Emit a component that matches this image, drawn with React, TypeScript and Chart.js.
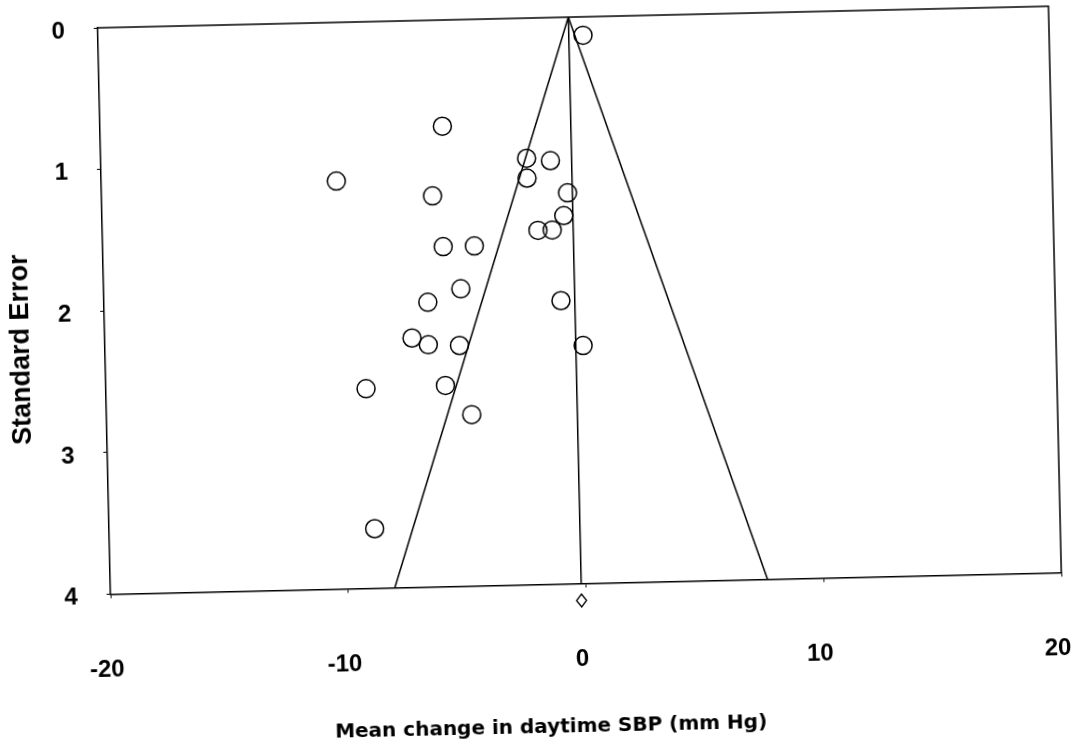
import React, { useEffect, useRef } from "react";
import { Chart, registerables } from "chart.js";

Chart.register(...registerables);

// Study estimates (mean change in daytime SBP, mm Hg) and their standard errors
const studyEffect = [-5.6, -10.11, -6.08, -2.09, -1.09, -2.09, -0.4, -0.58, -1.68, -1.08, -5.68, -4.37, -4.98, -6.38, -0.78, -7.08, -6.4, -5.09, 0.11, -9.06, -5.72, -4.64, 0.4, -8.83];
const studySE = [0.75, 1.12, 1.24, 0.99, 1.01, 1.13, 1.24, 1.4, 1.5, 1.5, 1.6, 1.6, 1.9, 1.99, 2.0, 2.24, 2.29, 2.3, 2.32, 2.59, 2.58, 2.79, 0.13, 3.58];

// Funnel (pooled estimate and 95% limits)
const funnelSE = [0, 4];
const funnelLower = [-0.2, -8.04];
const funnelUpper = [-0.2, 7.64];
const funnelCentre = [-0.2, -0.2];

// Pooled estimate marker below the axis
const diamondX = [-0.2];
const diamondY = [4.12];

const xTicks = [-20, -10, 0, 10, 20];
const yTicks = [0, 1, 2, 3, 4];
const xTitle = "Mean change in daytime SBP (mm Hg)";
const yTitle = "Standard Error";

const pts = (xs: number[], ys: number[]) => xs.map((x, i) => ({ x, y: ys[i] }));

const zeroPad = (s: any) => {
  s.paddingTop = 0;
  s.paddingBottom = 0;
  s.paddingLeft = 0;
  s.paddingRight = 0;
};

const overlayPlugin = {
  id: "overlay",
  afterDraw(chart: any) {
    const { ctx, chartArea, scales } = chart;
    ctx.save();
    // top and right frame edges
    ctx.strokeStyle = "#000";
    ctx.lineWidth = 1.5;
    ctx.beginPath();
    ctx.moveTo(chartArea.left, chartArea.top);
    ctx.lineTo(chartArea.right, chartArea.top);
    ctx.lineTo(chartArea.right, chartArea.bottom);
    ctx.stroke();
    // diamond
    const dx = scales.x.getPixelForValue(diamondX[0]);
    const dy = scales.y.getPixelForValue(diamondY[0]);
    ctx.beginPath();
    ctx.moveTo(dx, dy - 6.5);
    ctx.lineTo(dx + 5, dy);
    ctx.lineTo(dx, dy + 6.5);
    ctx.lineTo(dx - 5, dy);
    ctx.closePath();
    ctx.lineWidth = 1.3;
    ctx.stroke();
    // axis titles
    ctx.fillStyle = "#000";
    ctx.textAlign = "center";
    ctx.textBaseline = "middle";
    ctx.font = 'bold 20px "DejaVu Sans"';
    const w = chartArea.right - chartArea.left;
    const h = chartArea.bottom - chartArea.top;
    ctx.fillText(xTitle, chartArea.left + w * 0.46, chartArea.bottom + 143);
    ctx.translate(chartArea.left - 83, chartArea.top + h * 0.565);
    ctx.rotate(-Math.PI / 2);
    ctx.font = 'bold 27px "Liberation Sans"';
    ctx.fillText(yTitle, 0, 0);
    ctx.restore();
  },
};

export default function App() {
  const ref = useRef<HTMLCanvasElement | null>(null);

  useEffect(() => {
    if (!ref.current) return;
    const tickFont = { family: '"Liberation Sans"', weight: "bold" as const, size: 24 };
    const lineDs = (xs: number[]) => ({
      type: "scatter" as const,
      data: pts(xs, funnelSE),
      showLine: true,
      borderColor: "#000",
      borderWidth: 1.5,
      pointRadius: 0,
      fill: false,
    });
    const chart = new Chart(ref.current, {
      type: "scatter",
      data: {
        datasets: [
          lineDs(funnelLower),
          lineDs(funnelUpper),
          lineDs(funnelCentre),
          {
            type: "scatter",
            data: pts(studyEffect, studySE),
            pointStyle: "circle",
            pointRadius: 9,
            pointBorderWidth: 1.5,
            pointBorderColor: "#000",
            pointBackgroundColor: "rgba(0,0,0,0)",
          },
        ],
      },
      options: {
        animation: false,
        responsive: false,
        maintainAspectRatio: false,
        devicePixelRatio: 1,
        events: [],
        layout: { padding: { left: 0, top: 17, right: 23, bottom: 0 }, autoPadding: false },
        plugins: { legend: { display: false }, tooltip: { enabled: false } },
        scales: {
          x: {
            type: "linear",
            position: "bottom",
            min: -20,
            max: 20,
            afterBuildTicks: (s: any) => {
              s.ticks = xTicks.map((v) => ({ value: v }));
            },
            afterFit: (s: any) => {
              s.height = 159.5;
              zeroPad(s);
            },
            ticks: { font: tickFont, color: "#000", padding: 57, labelOffset: -5, autoSkip: false, maxRotation: 0 },
            grid: { drawOnChartArea: false, drawTicks: true, tickLength: 4, color: "#000", lineWidth: 1 },
            border: { display: true, color: "#000", width: 1.5 },
          },
          y: {
            type: "linear",
            position: "left",
            reverse: true,
            min: 0,
            max: 4,
            afterBuildTicks: (s: any) => {
              s.ticks = yTicks.map((v) => ({ value: v }));
            },
            afterFit: (s: any) => {
              s.width = 104;
              zeroPad(s);
            },
            ticks: { font: tickFont, color: "#000", padding: 29, labelOffset: 3, autoSkip: false },
            grid: { drawOnChartArea: false, drawTicks: true, tickLength: 4, color: "#000", lineWidth: 1 },
            border: { display: true, color: "#000", width: 1.5 },
          },
        },
      },
      plugins: [overlayPlugin],
    });
    return () => chart.destroy();
  }, []);

  return (
    <div style={{ position: "absolute", left: 0, top: 0, width: 1078, height: 743, background: "#fff", overflow: "hidden" }}>
      <canvas
        ref={ref}
        width={1078}
        height={743}
        style={{ display: "block", width: "1078px", height: "743px", transform: "rotate(-1.3deg)", transformOrigin: "579px 300px" }}
      />
    </div>
  );
}
